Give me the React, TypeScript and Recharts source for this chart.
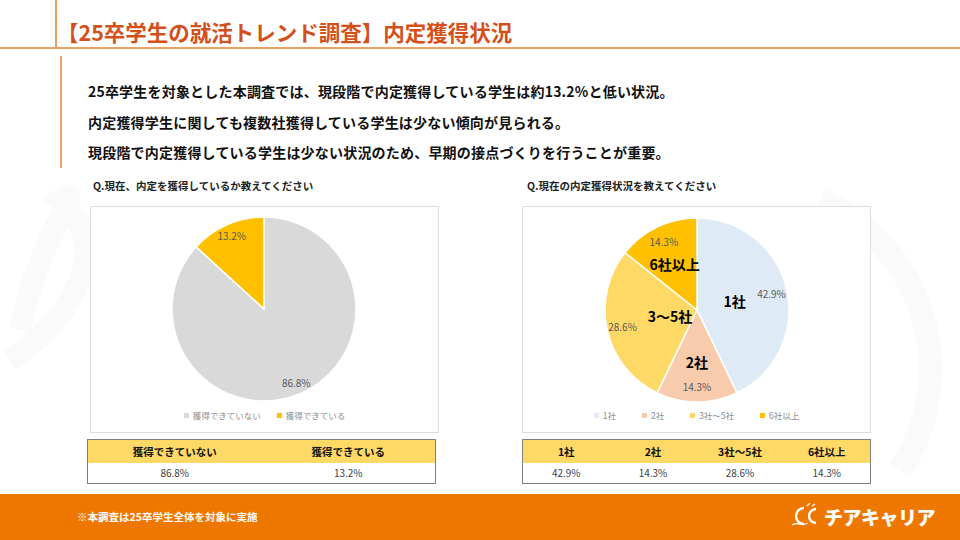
import { PieChart, Pie, Cell, Legend } from "recharts";

const statusNames = ["獲得できていない", "獲得できている"];
const statusValues = [86.8, 13.2];
const statusColors = ["#D9D9D9", "#FFC000"];

const countNames = ["1社", "2社", "3～5社", "6社以上"];
const countLegend = ["1社", "2社", "3社～5社", "6社以上"];
const countValues = [42.9, 14.3, 28.6, 14.3];
const countColors = ["#DEEBF7", "#F8CBAD", "#FFD966", "#FFC000"];

const pageTitle = "【25卒学生の就活トレンド調査】内定獲得状況";
const summaryLines = [
  "25卒学生を対象とした本調査では、現段階で内定獲得している学生は約13.2%と低い状況。",
  "内定獲得学生に関しても複数社獲得している学生は少ない傾向が見られる。",
  "現段階で内定獲得している学生は少ない状況のため、早期の接点づくりを行うことが重要。",
];
const leftQuestion = "Q.現在、内定を獲得しているか教えてください";
const rightQuestion = "Q.現在の内定獲得状況を教えてください";
const footNote = "※本調査は25卒学生全体を対象に実施";
const brand = "チアキャリア";

const FONT = '"Noto Sans CJK JP", "Noto Sans", sans-serif';
const RAD = Math.PI / 180;
const ORANGE = "#EE7700";
const LINE = "#E9A263";
// how far from the centre the bold slice names sit (fraction of the radius)
const NAME_RADIUS = [0.42, 0.56, 0.3, 0.56];

const statusData = statusNames.map((name, i) => ({ name, value: statusValues[i] }));
const countData = countNames.map((name, i) => ({ name, legend: countLegend[i], value: countValues[i] }));

const pct = (v: number) => `${v.toFixed(1)}%`;

function makeLabel(ratio: number, showName: boolean) {
  return (p: any) => {
    const { cx, cy, midAngle, outerRadius, index } = p;
    const value = p.value ?? p.payload?.value;
    const name = p.name ?? p.payload?.name;
    const cos = Math.cos(-midAngle * RAD);
    const sin = Math.sin(-midAngle * RAD);
    const r = outerRadius * ratio;
    const rn = outerRadius * (NAME_RADIUS[index] ?? 0.5);
    return (
      <g>
        <text x={cx + r * cos} y={cy + r * sin} textAnchor="middle" dominantBaseline="central" fill="#595959" fontSize={10} fontFamily={FONT}>
          {pct(value)}
        </text>
        {showName && (
          <text x={cx + rn * cos} y={cy + rn * sin} textAnchor="middle" dominantBaseline="central" fill="#000" fontSize={14} fontWeight={700} fontFamily={FONT}>
            {name}
          </text>
        )}
      </g>
    );
  };
}

function legendContent(names: string[], colors: string[], gap: number) {
  return () => (
    <div style={{ display: "flex", justifyContent: "center", gap, fontSize: 8.5, color: "#8C8C8C", fontFamily: FONT }}>
      {names.map((n, i) => (
        <span key={n} style={{ display: "flex", alignItems: "center" }}>
          <span style={{ width: 5, height: 5, background: colors[i], marginRight: 4, display: "inline-block" }} />
          {n}
        </span>
      ))}
    </div>
  );
}

function DataTable({ heads, values, left }: { heads: string[]; values: number[]; left: number }) {
  const cell = { textAlign: "center" as const, padding: 0 };
  return (
    <table
      style={{
        position: "absolute",
        left,
        top: 439,
        width: 349,
        borderCollapse: "collapse",
        border: "1.5px solid #7F7F7F",
        fontFamily: FONT,
        tableLayout: "fixed",
      }}
    >
      <tbody>
        <tr style={{ background: "#FFD966", height: 23 }}>
          {heads.map((h) => (
            <td key={h} style={{ ...cell, fontWeight: 700, fontSize: 10.5, color: "#111" }}>{h}</td>
          ))}
        </tr>
        <tr style={{ background: "#fff", height: 21 }}>
          {values.map((v, i) => (
            <td key={i} style={{ ...cell, fontSize: 10, color: "#404040" }}>{pct(v)}</td>
          ))}
        </tr>
      </tbody>
    </table>
  );
}

const frame = { position: "absolute" as const, top: 206, width: 347, height: 225, border: "1px solid #DDDDDD", background: "#fff" };
const question = { position: "absolute" as const, top: 178, fontSize: 10.5, fontWeight: 700, color: "#222", whiteSpace: "nowrap" as const };

export default function App() {
  return (
    <div
      style={{
        position: "fixed",
        left: 0,
        top: 0,
        width: 960,
        height: 540,
        background: "#fff",
        overflow: "hidden",
        fontFamily: FONT,
      }}
    >
      {/* faint watermark */}
      <svg width={960} height={540} style={{ position: "absolute", left: 0, top: 0 }}>
        <path d="M20 330 C 40 230, 90 180, 60 200 C 120 250, 60 330, 10 360" stroke="#FAFAFA" strokeWidth={22} fill="none" />
        <path d="M820 200 C 930 250, 960 380, 900 470" stroke="#FAFAFA" strokeWidth={24} fill="none" />
      </svg>

      <div style={{ position: "absolute", left: 55, top: 0, width: 2, height: 48, background: LINE }} />
      <div style={{ position: "absolute", left: 0, top: 47, width: 960, height: 2, background: LINE }} />
      <div style={{ position: "absolute", left: 60, top: 56, width: 2, height: 112, background: LINE }} />

      <div style={{ position: "absolute", left: 57, top: 16, fontSize: 21.5, fontWeight: 700, color: "#D4501A", whiteSpace: "nowrap" }}>
        {pageTitle}
      </div>

      {summaryLines.map((t, i) => (
        <div
          key={i}
          style={{ position: "absolute", left: 88, top: 81 + i * 30.5, fontSize: 14, fontWeight: 700, color: "#111", whiteSpace: "nowrap", letterSpacing: 0.2 }}
        >
          {t}
        </div>
      ))}

      <div style={{ ...question, left: 93 }}>{leftQuestion}</div>
      <div style={{ ...question, left: 527 }}>{rightQuestion}</div>

      <div style={{ ...frame, left: 90 }}>
        <PieChart width={347} height={225} margin={{ top: 0, right: 0, bottom: 0, left: 0 }}>
          <Pie
            data={statusData}
            dataKey="value"
            nameKey="name"
            cx={173}
            cy={102}
            outerRadius={92}
            startAngle={90}
            endAngle={-270}
            stroke="#fff"
            strokeWidth={1.5}
            label={makeLabel(0.87, false)}
            labelLine={false}
            isAnimationActive={false}
          >
            {statusData.map((d, i) => (
              <Cell key={d.name} fill={statusColors[i]} />
            ))}
          </Pie>
          <Legend content={legendContent(statusNames, statusColors, 16)} wrapperStyle={{ top: 202, left: 0, width: 347 }} />
        </PieChart>
      </div>

      <div style={{ ...frame, left: 522 }}>
        <PieChart width={347} height={225} margin={{ top: 0, right: 0, bottom: 0, left: 0 }}>
          <Pie
            data={countData}
            dataKey="value"
            nameKey="name"
            cx={174}
            cy={103}
            outerRadius={92}
            startAngle={90}
            endAngle={-270}
            stroke="#fff"
            strokeWidth={1.5}
            label={makeLabel(0.83, true)}
            labelLine={false}
            isAnimationActive={false}
          >
            {countData.map((d, i) => (
              <Cell key={d.name} fill={countColors[i]} />
            ))}
          </Pie>
          <Legend content={legendContent(countLegend, countColors, 26)} wrapperStyle={{ top: 202, left: 0, width: 347 }} />
        </PieChart>
      </div>

      <DataTable heads={statusNames} values={statusValues} left={87} />
      <DataTable heads={countLegend} values={countValues} left={522} />

      <div style={{ position: "absolute", left: 0, top: 494, width: 960, height: 46, background: ORANGE }}>
        <div style={{ position: "absolute", left: 77, top: 15, fontSize: 10.5, fontWeight: 700, color: "#fff", whiteSpace: "nowrap" }}>
          {footNote}
        </div>
        <svg width={34} height={26} style={{ position: "absolute", left: 790, top: 9 }}>
          <path d="M14 5 A8 8 0 1 0 14 21" stroke="#fff" strokeWidth={2.4} fill="none" />
          <path d="M26 6 A7 7 0 1 0 26 20" stroke="#fff" strokeWidth={2.4} fill="none" />
          <path d="M2 22 C 8 18, 12 24, 18 20" stroke="#fff" strokeWidth={1.4} fill="none" />
          <path d="M17 3 L 20 0 M 22 3 L 25 1" stroke="#fff" strokeWidth={1.2} />
        </svg>
        <div style={{ position: "absolute", left: 824, top: 9, fontSize: 19, fontWeight: 900, color: "#fff", whiteSpace: "nowrap", letterSpacing: -0.5 }}>
          {brand}
        </div>
      </div>
    </div>
  );
}
